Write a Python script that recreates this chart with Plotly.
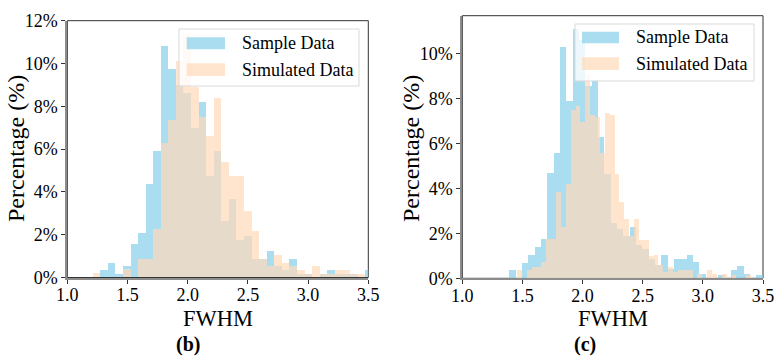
import numpy as np
import plotly.graph_objects as go

W, H = 781, 359

# ---------------- data (percent of samples per bin) ----------------
# panel (b): both series share the same bins
b_start = 1.2107
b_width = 0.06285
b_sample = [0, 0.35, 0.7, 0.17, 0.53, 1.57, 2.1, 4.36, 5.9, 10.83,
            9.76, 9.0, 8.6, 6.97, 8.19, 4.75, 5.92, 2.63, 3.65, 1.74,
            1.93, 0.86, 0.86, 1.25, 0.55, 0.36, 0.86, 0.17, 0.16, 0.0,
            0.16, 0.36, 0.16, 0.16, 0.16, 0.0, 0.36]
b_sim = [0.19, 0, 0, 0, 0.38, 0, 0.88, 0.88, 2.27, 6.29,
         7.34, 10.1, 11.4, 8.9, 7.49, 6.6, 8.39, 5.41, 4.75, 4.75,
         3.13, 2.16, 0.86, 0.55, 1.05, 0.67, 0.55, 0.36, 0.16, 0.52,
         0.16, 0.16, 0.36, 0.36, 0.16, 0.16, 0.0]

# panel (c): the two series use different bins
c_s_start = 1.391
c_s_width = 0.05266
c_sample = [0.37, 0.0, 0.7, 1.04, 1.4, 1.73, 4.7, 5.56, 10.3, 7.9,
            11.1, 10.6, 8.55, 8.8, 6.27, 4.64, 2.47, 2.2, 1.9, 2.27,
            1.5, 1.3, 0.84, 0.6, 1.04, 0.4, 0.84, 0.84, 1.04, 0.74,
            0.2, 0.0, 0.0, 0.15, 0.0, 0.37, 0.55, 0.19, 0.0, 0.15]
c_m_start = 1.4559
c_m_width = 0.04052
c_sim = [0.37, 0.0, 0.37, 0.5, 0.5, 0.74, 1.75, 1.73, 3.85, 2.3,
         4.2, 7.5, 7.66, 6.96, 9.1, 7.26, 7.16, 5.56, 7.33, 7.26,
         4.64, 3.41, 2.62, 1.9, 2.62, 1.7, 1.7, 1.0, 1.04, 0.6,
         0.3, 0.5, 0.3, 0.37, 0.37, 0.37, 0.0, 0.2, 0.0, 0.37,
         0.2, 0.0, 0.2, 0.0, 0.15, 0.0, 0.0, 0.15]

x_ticks = [1.0, 1.5, 2.0, 2.5, 3.0, 3.5]
b_yticks = [0, 2, 4, 6, 8, 10, 12]
c_yticks = [0, 2, 4, 6, 8, 10]
legend_labels = ["Sample Data", "Simulated Data"]
panel_labels = ["(b)", "(c)"]
x_title = "FWHM"
y_title = "Percentage (%)"

BLUE = "rgba(135,206,235,0.7)"
PEACH = "rgba(255,218,185,0.7)"
FONT = "Liberation Serif, Times New Roman, serif"


def centers(start, width, n):
    return start + width * (np.arange(n) + 0.5)


fig = go.Figure()
fig.add_bar(x=centers(b_start, b_width, len(b_sample)), y=b_sample, width=b_width,
            marker=dict(color=BLUE, line=dict(width=0)), xaxis="x", yaxis="y",
            name=legend_labels[0], showlegend=False)
fig.add_bar(x=centers(b_start, b_width, len(b_sim)), y=b_sim, width=b_width,
            marker=dict(color=PEACH, line=dict(width=0)), xaxis="x", yaxis="y",
            name=legend_labels[1], showlegend=False)
fig.add_bar(x=centers(c_s_start, c_s_width, len(c_sample)), y=c_sample, width=c_s_width,
            marker=dict(color=BLUE, line=dict(width=0)), xaxis="x2", yaxis="y2",
            name=legend_labels[0], showlegend=False)
fig.add_bar(x=centers(c_m_start, c_m_width, len(c_sim)), y=c_sim, width=c_m_width,
            marker=dict(color=PEACH, line=dict(width=0)), xaxis="x2", yaxis="y2",
            name=legend_labels[1], showlegend=False)


def px(x):
    return x / W


def py(y):
    return 1 - y / H


b_box = (67.3, 368.3, 20.7, 277.5)
c_box = (462.3, 763.0, 15.7, 278.3)


def axis(**kw):
    d = dict(showline=True, linecolor="#8c8c8c", linewidth=2, ticks="outside",
             ticklen=4, tickwidth=1, tickcolor="#333", showgrid=False, zeroline=False,
             automargin=False, tickfont=dict(family=FONT, size=18, color="black"))
    d.update(kw)
    return d


fig.update_layout(
    width=W, height=H, margin=dict(l=0, r=0, t=0, b=0, autoexpand=False),
    paper_bgcolor="white", plot_bgcolor="white", barmode="overlay", bargap=0,
    showlegend=False,
    xaxis=axis(domain=[px(b_box[0]), px(b_box[1])], range=[1.0, 3.5], anchor="y",
               tickvals=x_ticks, ticktext=[f"{v:.1f}" for v in x_ticks],
               ticklabelstandoff=-4),
    yaxis=axis(domain=[py(b_box[3]), py(b_box[2])], range=[0, 12], anchor="x",
               tickvals=b_yticks, ticktext=[f"{v}%" for v in b_yticks]),
    xaxis2=axis(domain=[px(c_box[0]), px(c_box[1])], range=[1.0, 3.5], anchor="y2",
                tickvals=x_ticks, ticktext=[f"{v:.1f}" for v in x_ticks],
                ticklabelstandoff=-4),
    yaxis2=axis(domain=[py(c_box[3]), py(c_box[2])], range=[0, 11.67], anchor="x2",
                tickvals=c_yticks, ticktext=[f"{v}%" for v in c_yticks]),
)

shapes = []
annotations = []
for xa, ya in (("x", "y"), ("x2", "y2")):
    shapes.append(dict(type="rect", xref=f"{xa} domain", yref=f"{ya} domain",
                       x0=0, x1=1, y0=0, y1=1, line=dict(color="#333", width=1),
                       layer="below"))

# legends drawn matplotlib-style (wide swatches, translucent box)
for (bx0, bx1, by0, by1, sx0, sx1, s1y, s2y, tx) in (
        (179, 359, 29, 86, 186.7, 225, (37.3, 49.3), (63.3, 76), 240),
        (575, 754, 24, 81, 582, 619, (31.7, 43.3), (57.3, 70), 634)):
    shapes.append(dict(type="rect", xref="paper", yref="paper",
                       x0=px(bx0), x1=px(bx1), y0=py(by1), y1=py(by0),
                       fillcolor="rgba(255,255,255,0.8)",
                       line=dict(color="#d9d9d9", width=1), layer="above"))
    for (y0, y1), col, lab in ((s1y, BLUE, legend_labels[0]), (s2y, PEACH, legend_labels[1])):
        shapes.append(dict(type="rect", xref="paper", yref="paper",
                           x0=px(sx0), x1=px(sx1), y0=py(y1), y1=py(y0),
                           fillcolor=col, line=dict(width=0), layer="above"))
        annotations.append(dict(xref="paper", yref="paper", x=px(tx), y=py((y0 + y1) / 2),
                                text=lab, showarrow=False, xanchor="left", yanchor="middle",
                                font=dict(family=FONT, size=18, color="black")))

for cx, ycx, lab, lx in ((217.8, 16, panel_labels[0], 188), (612.6, 411, panel_labels[1], 585)):
    annotations.append(dict(xref="paper", yref="paper", x=px(cx), y=py(318),
                            text=x_title, showarrow=False, xanchor="center", yanchor="middle",
                            font=dict(family=FONT, size=22.5, color="black")))
    annotations.append(dict(xref="paper", yref="paper", x=px(ycx), y=py(149),
                            text=y_title, showarrow=False, textangle=-90,
                            xanchor="center", yanchor="middle",
                            font=dict(family=FONT, size=24, color="black")))
    annotations.append(dict(xref="paper", yref="paper", x=px(lx), y=py(344),
                            text=f"<b>{lab}</b>", showarrow=False,
                            xanchor="center", yanchor="middle",
                            font=dict(family=FONT, size=20, color="black")))

fig.update_layout(shapes=shapes, annotations=annotations)
fig.write_html("out.html", config={"displayModeBar": False, "staticPlot": True},
               post_script="document.body.style.margin='0';document.body.style.overflow='hidden';")
